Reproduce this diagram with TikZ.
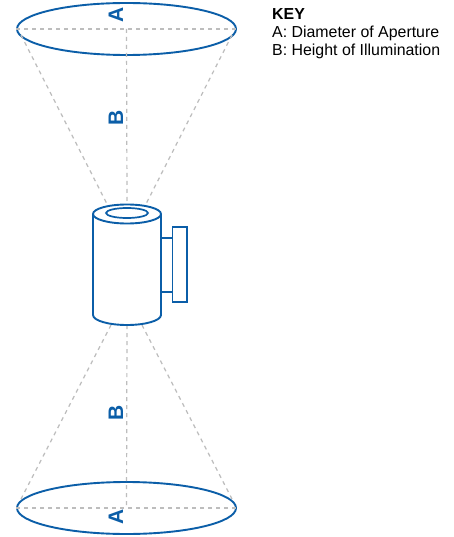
\documentclass[tikz,border=0pt]{standalone}
\usepackage{fontspec}
\setmainfont{Liberation Sans}
\usetikzlibrary{shapes.geometric}
\definecolor{lampblue}{HTML}{0B5EA8}
\definecolor{guide}{HTML}{BDBDBD}
\tikzset{
  outline/.style={draw=lampblue,line width=1.9pt,line join=round},
  thinline/.style={draw=lampblue,line width=1.7pt},
  guideline/.style={draw=guide,line width=1.2pt,dash pattern=on 4pt off 4pt},
  apert/.style={ellipse,outline,inner sep=0pt,minimum width=219pt,minimum height=52pt},
  dim/.style={text=lampblue,font=\fontsize{21}{21}\selectfont\bfseries,rotate=90,inner sep=0pt},
  keytext/.style={anchor=north west,inner sep=0pt,align=left,font=\fontsize{15.9}{18}\selectfont}
}
\begin{document}
\begin{tikzpicture}[x=1pt,y=-1pt]
\useasboundingbox (0,0) rectangle (454,537);
\fill[white] (0,0) rectangle (454,537);
\node[apert] (top) at (126.5,29) {};
\node[apert] (bot) at (126.5,508) {};
% guide coordinates
\coordinate (lt) at (127,204);
\coordinate (lb) at (127,325);
\coordinate (tl) at (107,204);
\coordinate (tr) at (146,204);
\coordinate (bl) at (111,325);
\coordinate (br) at (142,325);
\coordinate (tlE) at (21,35);
\coordinate (trE) at (232,35);
\coordinate (blE) at (21,499);
\coordinate (brE) at (232,499);
\draw[guideline] (top.west) -- (top.east);
\draw[guideline] (bot.west) -- (bot.east);
\draw[guideline] (top.center) -- (lt);
\draw[guideline] (lb) -- (bot.center);
\draw[guideline] (tlE) -- (tl);
\draw[guideline] (trE) -- (tr);
\draw[guideline] (bl) -- (blE);
\draw[guideline] (br) -- (brE);
% lamp
\fill[white] (93,214) rectangle (161,315);
\draw[outline] (93,214) -- (93,315) arc[start angle=180,end angle=360,x radius=34,y radius=-10] -- (161,214);
\draw[outline,fill=white] (127,214) ellipse[x radius=34,y radius=9.5];
\draw[thinline] (127,213) ellipse[x radius=21,y radius=5];
\draw[thinline] (161,238) -- (172,238);
\draw[thinline] (161,292) -- (172,292);
\draw[thinline] (172.5,227) rectangle (187,302);
% labels
\node[dim] (a1) at (116,15) {A};
\node[dim] (b1) at (116,118) {B};
\node[dim] (b2) at (116,413) {B};
\node[dim] (a2) at (116,516.5) {A};
\node[keytext] (key) at (272,8.5) {\textbf{KEY}\\A: Diameter of Aperture\\B: Height of Illumination};
\end{tikzpicture}
\end{document}
